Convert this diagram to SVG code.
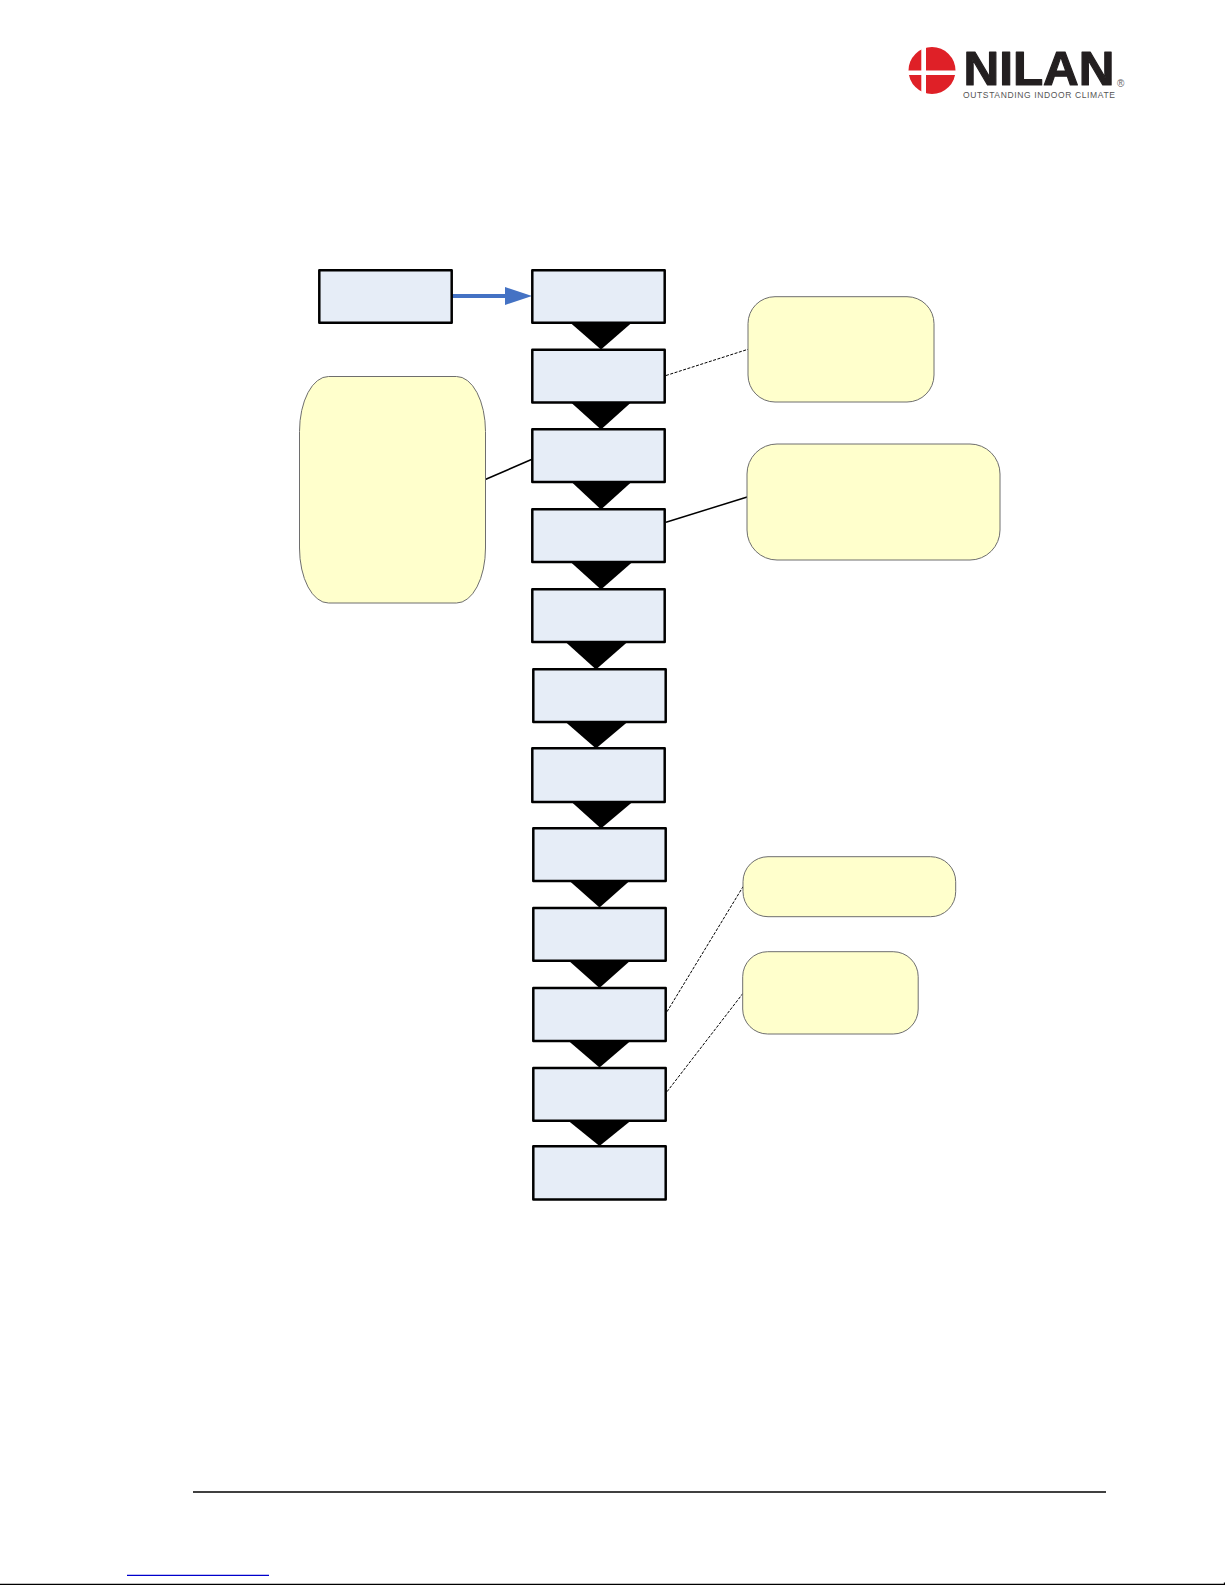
<svg xmlns="http://www.w3.org/2000/svg" width="1225" height="1585" viewBox="0 0 1225 1585">
<style>
.step{fill:#e6edf7;stroke:#000;stroke-width:2.5;stroke-linejoin:round}
.note{fill:#ffffcc;stroke:#6e6e6e;stroke-width:1}
.tri{fill:#000}
.solid{fill:none;stroke:#000;stroke-width:1.5}
.dash{fill:none;stroke:#000;stroke-width:1;stroke-dasharray:3 1.5}
.logo{font-family:"Liberation Sans",Arial,sans-serif;fill:#231f20}
</style>
<defs>
<marker id="blueHead" markerUnits="userSpaceOnUse" markerWidth="27" markerHeight="18" refX="1" refY="9" orient="auto"><path d="M0 0L27 9L0 18Z" fill="#4472c4"/></marker>
</defs>
<rect width="1225" height="1585" fill="#fff"/>
<g id="logo">
<circle cx="932" cy="70.5" r="23.5" fill="#df2027"/>
<rect x="921.3" y="46" width="4.7" height="49" fill="#fff"/>
<rect x="908" y="70.5" width="48" height="4.5" fill="#fff"/>
<text class="logo" x="963.500" y="84.500" font-size="49" font-weight="700" textLength="151" lengthAdjust="spacingAndGlyphs" stroke="#231f20" stroke-width="1.200" stroke-linejoin="round">NILAN</text>
<text class="logo" x="1117" y="86.500" font-size="10" style="fill:#666">®</text>
<text class="logo" x="963" y="97.500" font-size="8.500" textLength="152" lengthAdjust="spacing" style="fill:#555">OUTSTANDING INDOOR CLIMATE</text>
</g>
<g id="connectors">
<path class="tri" d="M570 322.500L632 322.500L601 349.500Z"/>
<path class="tri" d="M571 402.500L631 402.500L601 429.500Z"/>
<path class="tri" d="M571 481.500L632 481.500L601 509.500Z"/>
<path class="tri" d="M570 561.500L633 561.500L601 589.500Z"/>
<path class="tri" d="M565 641.500L628 641.500L596 669.500Z"/>
<path class="tri" d="M565 721.500L628 721.500L596 748.500Z"/>
<path class="tri" d="M571 801.500L633 801.500L601 828.500Z"/>
<path class="tri" d="M569 880.500L630 880.500L599.500 907.500Z"/>
<path class="tri" d="M568 960L631 960L599.500 988Z"/>
<path class="tri" d="M568 1040.500L631 1040.500L599.500 1067.500Z"/>
<path class="tri" d="M568 1120.500L631 1120.500L599.500 1146Z"/>
<line x1="451" y1="296" x2="506" y2="296" stroke="#4472c4" stroke-width="4" marker-end="url(#blueHead)"/>
<line class="dash" x1="666" y1="375.500" x2="748" y2="349.300"/>
<line class="solid" x1="666" y1="522.300" x2="748" y2="496.700"/>
<line class="solid" x1="483.500" y1="480.300" x2="532" y2="459.300"/>
<line class="dash" x1="667" y1="1011.700" x2="743" y2="886.700"/>
<line class="dash" x1="667" y1="1091.700" x2="743" y2="993.300"/>
</g>
<g id="source"><rect class="step" x="319.300" y="270.300" width="132.400" height="52.400"/></g>
<g id="step1"><rect class="step" x="532.300" y="270.300" width="132.400" height="52.400"/></g>
<g id="step2"><rect class="step" x="532.300" y="349.800" width="132.400" height="52.700"/></g>
<g id="step3"><rect class="step" x="532.300" y="429.300" width="132.400" height="52.700"/></g>
<g id="step4"><rect class="step" x="532.300" y="509.300" width="132.400" height="52.700"/></g>
<g id="step5"><rect class="step" x="532.300" y="589.300" width="132.400" height="52.700"/></g>
<g id="step6"><rect class="step" x="533.300" y="669.300" width="132.400" height="52.700"/></g>
<g id="step7"><rect class="step" x="532.300" y="748.300" width="132.400" height="53.700"/></g>
<g id="step8"><rect class="step" x="533.300" y="828.300" width="132.400" height="52.700"/></g>
<g id="step9"><rect class="step" x="533.300" y="908" width="132.400" height="52.700"/></g>
<g id="step10"><rect class="step" x="533.300" y="988" width="132.400" height="53"/></g>
<g id="step11"><rect class="step" x="533.300" y="1068" width="132.400" height="52.700"/></g>
<g id="step12"><rect class="step" x="533.300" y="1146.300" width="132.400" height="53.200"/></g>
<g id="noteLeft"><rect class="note" x="299.500" y="376.500" width="186" height="226.500" rx="29" ry="55"/></g>
<g id="noteA"><rect class="note" x="748" y="296.700" width="186" height="105.300" rx="27" ry="27"/></g>
<g id="noteB"><rect class="note" x="747" y="444" width="253" height="116" rx="30" ry="30"/></g>
<g id="noteC"><rect class="note" x="743" y="856.700" width="212.700" height="60" rx="25" ry="25"/></g>
<g id="noteD"><rect class="note" x="742.700" y="951.700" width="175.500" height="82.300" rx="25" ry="25"/></g>
<g id="footer">
<line x1="193" y1="1492" x2="1106" y2="1492" stroke="#000" stroke-width="1.300"/>
<line x1="127" y1="1575.300" x2="269" y2="1575.300" stroke="#0000cc" stroke-width="1.300"/>
<path d="M0 1584.300H1224.500V1582.500" fill="none" stroke="#000" stroke-width="1.300"/>
</g>
</svg>
